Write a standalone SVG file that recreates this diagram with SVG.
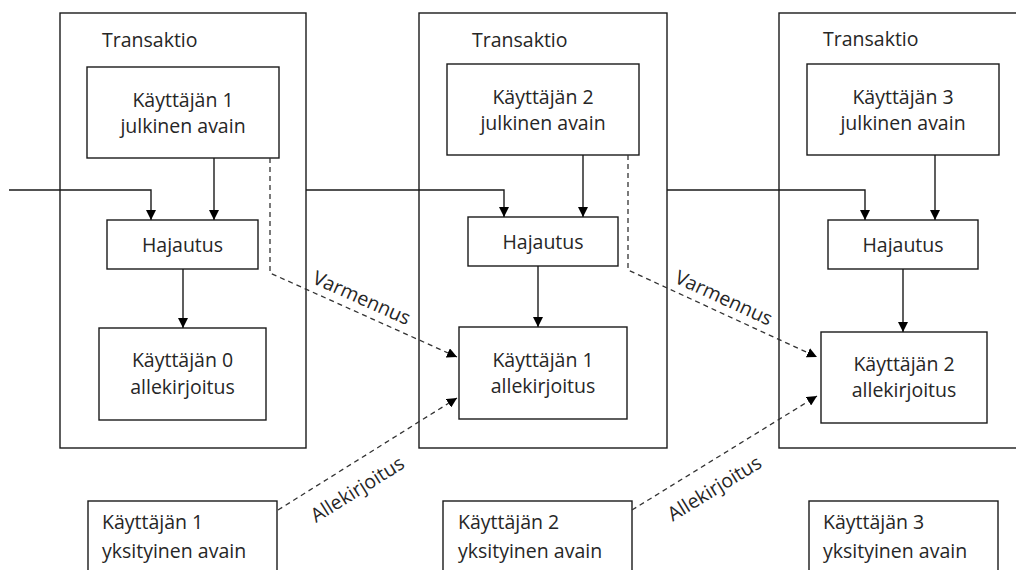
<svg xmlns="http://www.w3.org/2000/svg" width="1016" height="570" viewBox="0 0 1016 570">
<defs>
<style>
.box{fill:#fff;stroke:#1a1a1a;stroke-width:1.4}
.t{font-family:"Open Sans","Liberation Sans",sans-serif;font-size:19.5px;fill:#262626}
.c{text-anchor:middle}
.ln{fill:none;stroke:#1a1a1a;stroke-width:1.4}
.dl{fill:none;stroke:#333;stroke-width:1.3;stroke-dasharray:5 4}
</style>
<marker id="ah" markerUnits="userSpaceOnUse" markerWidth="11" markerHeight="10" refX="10" refY="5" orient="auto">
<path d="M0,0 L10,5 L0,10 z" fill="#000"/>
</marker>
</defs>
<rect width="1016" height="570" fill="#fff"/>
<g id="tx1">
<rect class="box" x="60" y="13" width="246" height="435"/>
<text class="t" x="102" y="47">Transaktio</text>
</g>
<g id="tx2">
<rect class="box" x="419" y="13" width="248" height="435"/>
<text class="t" x="472" y="47">Transaktio</text>
</g>
<g id="tx3">
<rect class="box" x="779" y="13" width="250" height="435"/>
<text class="t" x="823" y="46">Transaktio</text>
</g>
<g id="pub1">
<rect class="box" x="87" y="67" width="192" height="91"/>
<text class="t c" x="183" y="107">Käyttäjän 1</text>
<text class="t c" x="183" y="133">julkinen avain</text>
</g>
<g id="pub2">
<rect class="box" x="447" y="64" width="192" height="91"/>
<text class="t c" x="543" y="104">Käyttäjän 2</text>
<text class="t c" x="543" y="130">julkinen avain</text>
</g>
<g id="pub3">
<rect class="box" x="807" y="64" width="192" height="91"/>
<text class="t c" x="903" y="104">Käyttäjän 3</text>
<text class="t c" x="903" y="130">julkinen avain</text>
</g>
<g id="hash1">
<rect class="box" x="107" y="220" width="151" height="49"/>
<text class="t c" x="182.5" y="252">Hajautus</text>
</g>
<g id="hash2">
<rect class="box" x="468" y="217" width="150" height="49"/>
<text class="t c" x="543" y="249">Hajautus</text>
</g>
<g id="hash3">
<rect class="box" x="828" y="220" width="150" height="49"/>
<text class="t c" x="903" y="252">Hajautus</text>
</g>
<g id="sig0">
<rect class="box" x="99" y="328" width="167" height="92"/>
<text class="t c" x="182.5" y="367">Käyttäjän 0</text>
<text class="t c" x="182.5" y="394">allekirjoitus</text>
</g>
<g id="sig1">
<rect class="box" x="459" y="327" width="168" height="92"/>
<text class="t c" x="543" y="367">Käyttäjän 1</text>
<text class="t c" x="543" y="393">allekirjoitus</text>
</g>
<g id="sig2">
<rect class="box" x="821" y="332" width="166" height="91"/>
<text class="t c" x="904" y="371">Käyttäjän 2</text>
<text class="t c" x="904" y="397">allekirjoitus</text>
</g>
<g id="priv1">
<rect class="box" x="88" y="501" width="189" height="90"/>
<text class="t" x="102" y="529">Käyttäjän 1</text>
<text class="t" x="102" y="558">yksityinen avain</text>
</g>
<g id="priv2">
<rect class="box" x="443" y="501" width="189" height="90"/>
<text class="t" x="458" y="529">Käyttäjän 2</text>
<text class="t" x="458" y="558">yksityinen avain</text>
</g>
<g id="priv3">
<rect class="box" x="809" y="501" width="189" height="90"/>
<text class="t" x="823" y="529">Käyttäjän 3</text>
<text class="t" x="823" y="558">yksityinen avain</text>
</g>
<g id="connectors">
<path class="ln" d="M9,190 H151 V220" marker-end="url(#ah)"/>
<path class="ln" d="M214,158 V220" marker-end="url(#ah)"/>
<path class="ln" d="M183,269 V328" marker-end="url(#ah)"/>
<path class="ln" d="M306,190 H504 V217" marker-end="url(#ah)"/>
<path class="ln" d="M583,155 V217" marker-end="url(#ah)"/>
<path class="ln" d="M538,266 V327" marker-end="url(#ah)"/>
<path class="ln" d="M667,190 H865 V220" marker-end="url(#ah)"/>
<path class="ln" d="M935,155 V220" marker-end="url(#ah)"/>
<path class="ln" d="M903,269 V332" marker-end="url(#ah)"/>
<path class="dl" d="M270,158 V273 L457,357" marker-end="url(#ah)"/>
<path class="dl" d="M628,155 V270 L817,357" marker-end="url(#ah)"/>
<path class="dl" d="M278,510 L457,398" marker-end="url(#ah)"/>
<path class="dl" d="M632,510 L817,396" marker-end="url(#ah)"/>
<text class="t c" transform="translate(359,304) rotate(24)">Varmennus</text>
<text class="t c" transform="translate(721,304) rotate(24.7)">Varmennus</text>
<text class="t c" transform="translate(361,495) rotate(-32)">Allekirjoitus</text>
<text class="t c" transform="translate(718,494) rotate(-31.5)">Allekirjoitus</text>
</g>
</svg>
